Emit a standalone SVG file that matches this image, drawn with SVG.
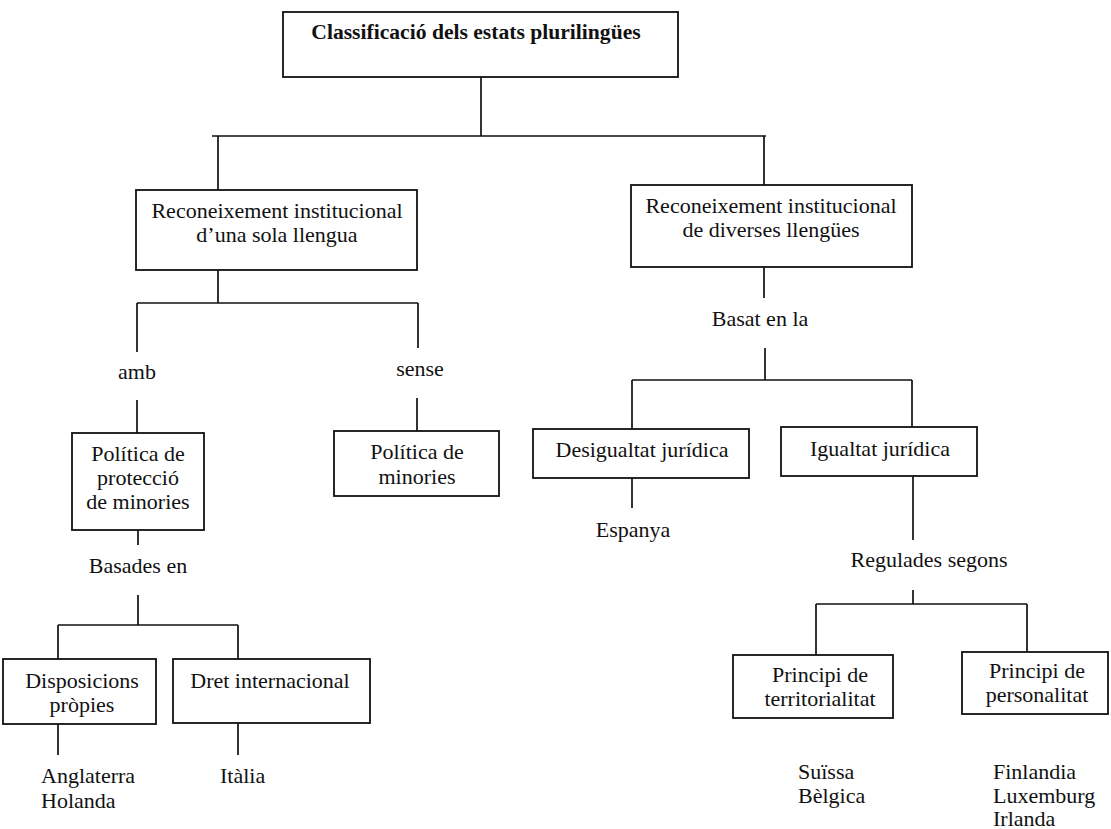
<svg xmlns="http://www.w3.org/2000/svg" width="1111" height="829" viewBox="0 0 1111 829">
<style>
.box{fill:#fff;stroke:#111;stroke-width:1.8}
.ln{stroke:#111;stroke-width:1.7;fill:none}
text{font-family:"Liberation Serif","Times New Roman",serif;font-size:22px;fill:#111}
.c{text-anchor:middle}
.b{font-weight:bold;font-size:21.6px}
</style>
<rect width="1111" height="829" fill="#fff"/>
<g id="connectors">
<path class="ln" d="M481 77V136M212 136H766M218 136V190M764 136V185"/>
<path class="ln" d="M218 270V303M137 303H418M137 303V352M418 303V348M137 400V433M417 398V431"/>
<path class="ln" d="M138 530V545M138 595V625M58 625H238M58 625V659M238 625V659M58 724V755M238 723V755"/>
<path class="ln" d="M764 267V298M765 348V380M632 380H912M632 380V429M912 380V427M632 478V508"/>
<path class="ln" d="M913 476V540M913 590V604M816 604H1027M816 604V655M1027 604V652"/>
</g>
<g id="root"><rect class="box" x="283" y="12" width="395" height="65"/><text class="c b" x="476" y="39">Classificació dels estats plurilingües</text></g>
<g id="una"><rect class="box" x="136" y="190" width="281" height="80"/><text class="c" x="277" y="218">Reconeixement institucional</text><text class="c" x="277" y="242">d’una sola llengua</text></g>
<g id="diverses"><rect class="box" x="631" y="185" width="281" height="82"/><text class="c" x="771" y="213">Reconeixement institucional</text><text class="c" x="771" y="237">de diverses llengües</text></g>
<g id="amb"><text class="c" x="137" y="379">amb</text></g>
<g id="sense"><text class="c" x="420" y="376">sense</text></g>
<g id="proteccio"><rect class="box" x="72" y="433" width="132" height="97"/><text class="c" x="138" y="461">Política de</text><text class="c" x="138" y="485">protecció</text><text class="c" x="138" y="509">de minories</text></g>
<g id="minories"><rect class="box" x="334" y="431" width="165" height="65"/><text class="c" x="417" y="459">Política de</text><text class="c" x="417" y="484">minories</text></g>
<g id="basades"><text class="c" x="138" y="573">Basades en</text></g>
<g id="disposicions"><rect class="box" x="3" y="659" width="153" height="65"/><text class="c" x="82" y="688">Disposicions</text><text class="c" x="82" y="712">pròpies</text></g>
<g id="dret"><rect class="box" x="173" y="659" width="197" height="64"/><text class="c" x="270" y="688">Dret internacional</text></g>
<g id="anglaterra"><text x="41" y="783">Anglaterra</text><text x="41" y="808">Holanda</text></g>
<g id="italia"><text x="220" y="783">Itàlia</text></g>
<g id="basat"><text class="c" x="760" y="326">Basat en la</text></g>
<g id="desigualtat"><rect class="box" x="533" y="429" width="216" height="49"/><text class="c" x="642" y="457">Desigualtat jurídica</text></g>
<g id="espanya"><text class="c" x="633" y="537">Espanya</text></g>
<g id="igualtat"><rect class="box" x="781" y="427" width="196" height="49"/><text class="c" x="880" y="456">Igualtat jurídica</text></g>
<g id="regulades"><text class="c" x="929" y="567">Regulades segons</text></g>
<g id="territorialitat"><rect class="box" x="733" y="655" width="160" height="63"/><text class="c" x="820" y="682">Principi de</text><text class="c" x="820" y="706">territorialitat</text></g>
<g id="personalitat"><rect class="box" x="962" y="652" width="146" height="62"/><text class="c" x="1037" y="678">Principi de</text><text class="c" x="1037" y="702">personalitat</text></g>
<g id="suissa"><text x="798" y="779">Suïssa</text><text x="798" y="803">Bèlgica</text></g>
<g id="finlandia"><text x="993" y="779">Finlandia</text><text x="993" y="803">Luxemburg</text><text x="993" y="826">Irlanda</text></g>
</svg>
